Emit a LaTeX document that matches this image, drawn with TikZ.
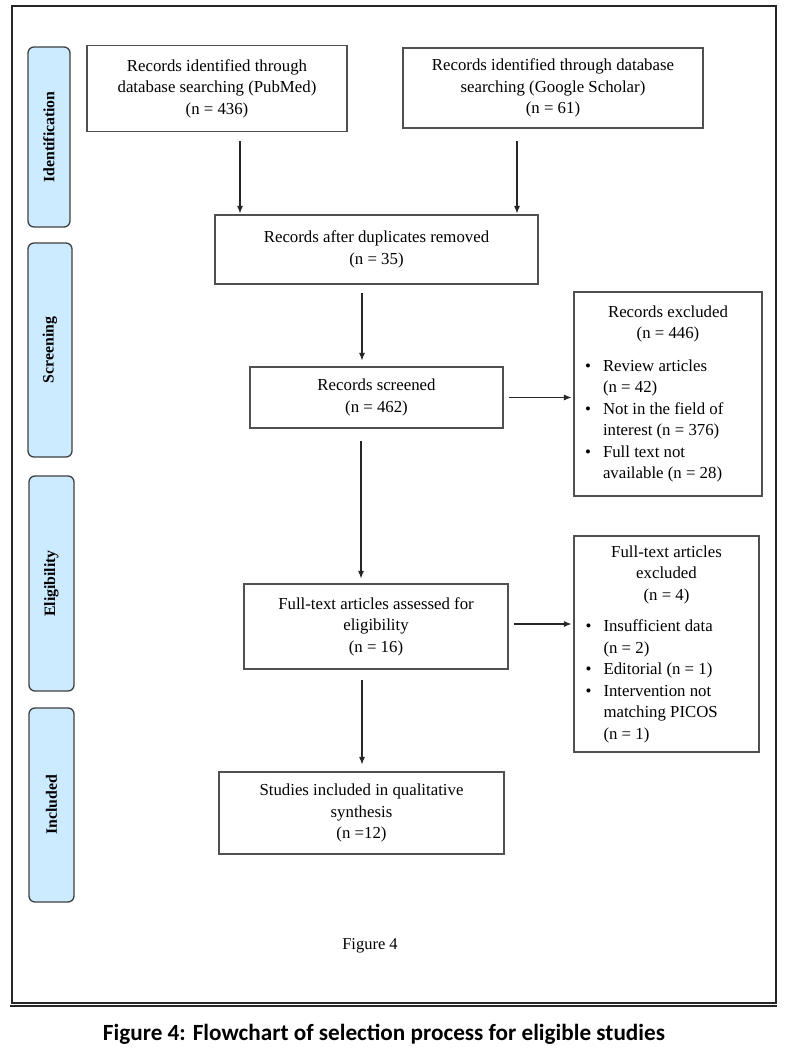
\documentclass[tikz,border=0pt]{standalone}
\usepackage{fontspec}
\setmainfont{Liberation Serif}
\newfontfamily\capfont{Carlito}
\usetikzlibrary{arrows.meta}
\definecolor{barblue}{RGB}{204,235,255}
\definecolor{edgegray}{RGB}{80,80,80}
\definecolor{bardark}{RGB}{64,64,64}
\newcommand\bul{\leavevmode\llap{\textbullet\hspace{12pt}}}
\begin{document}
\begin{tikzpicture}[x=1pt,y=-1pt,
  boxtext/.style={font=\fontsize{16.8}{21.5}\selectfont},
  flowbox/.style={draw=edgegray, line width=1.1pt, align=center, inner sep=0pt, boxtext},
  phasebar/.style={draw=bardark, line width=1.3pt, fill=barblue, rounded corners=6pt,
     rotate=90, inner sep=0pt, font=\fontsize{15.8}{18}\selectfont\bfseries},
  arr/.style={-{Latex[length=7.5pt,width=6pt]}, line width=1.1pt, black!85}]
\useasboundingbox (0,0) rectangle (784,1054);
\fill[white] (0,0) rectangle (784,1054);
% frame
\draw[line width=1.4pt, black!85] (12,6) rectangle (776,1003);
\coordinate (rl) at (10,1006.2);
\coordinate (rr) at (776.7,1006.2);
\draw[line width=2.2pt, black!85] (rl) -- (rr);
% phase bars
\node[phasebar, minimum width=180pt, minimum height=42pt] (b1) at (49,137) {Identification};
\node[phasebar, minimum width=214pt, minimum height=44pt] (b2) at (50,350) {Screening};
\node[phasebar, minimum width=215pt, minimum height=45pt] (b3) at (51.5,583.5) {Eligibility};
\node[phasebar, minimum width=194pt, minimum height=45pt] (b4) at (51.5,805) {Included};
% boxes
\node[flowbox, minimum width=260pt, minimum height=86pt] (pub) at (217,88.5)
  {Records identified through\\database searching (PubMed)\\(n = 436)};
\node[flowbox, minimum width=300pt, minimum height=80pt] (goo) at (553,88)
  {Records identified through database\\searching (Google Scholar)\\(n = 61)};
\node[flowbox, minimum width=323pt, minimum height=69pt] (dup) at (376.5,249.5)
  {Records after duplicates removed\\(n = 35)};
\node[flowbox, minimum width=253pt, minimum height=61pt] (scr) at (376.5,397.5)
  {Records screened\\(n = 462)};
\node[flowbox, minimum width=264pt, minimum height=85pt] (ft) at (376,626.5)
  {Full-text articles assessed for\\eligibility\\(n = 16)};
\node[flowbox, minimum width=285pt, minimum height=82pt] (inc) at (361.5,813)
  {Studies included in qualitative\\synthesis\\(n =12)};
\node[flowbox, minimum width=188pt, minimum height=204pt] (ex1) at (668,394)
  {\begin{minipage}{172pt}\centering Records excluded\\(n = 446)\par\vspace{11pt}%
   \raggedright\leftskip=21pt
   \bul Review articles\\(n = 42)\par
   \bul Not in the field of\\interest (n = 376)\par
   \bul Full text not\\available (n = 28)\end{minipage}};
\node[flowbox, minimum width=185pt, minimum height=216pt] (ex2) at (666.5,644)
  {\begin{minipage}{170pt}\centering Full-text articles\\excluded\\(n = 4)\par\vspace{10pt}%
   \raggedright\leftskip=22pt
   \bul Insufficient data\\(n = 2)\par
   \bul Editorial (n = 1)\par
   \bul Intervention not\\matching PICOS\\(n = 1)\end{minipage}};
% arrows
\draw[arr, shorten <=9pt, shorten >=1pt] ([xshift=23pt]pub.south) -- ([xshift=23pt]pub.south |- dup.north);
\draw[arr, shorten <=12pt, shorten >=1pt] ([xshift=-36pt]goo.south) -- ([xshift=-36pt]goo.south |- dup.north);
\draw[arr, shorten <=8pt, shorten >=6pt] ([xshift=-14.5pt]dup.south) -- ([xshift=-14.5pt]dup.south |- scr.north);
\draw[arr, shorten <=5pt, shorten >=2pt] (scr.east) -- (scr.east -| ex1.west);
\draw[arr, shorten <=12pt, shorten >=5pt] ([xshift=-15.5pt]scr.south) -- ([xshift=-15.5pt]scr.south |- ft.north);
\draw[arr, shorten <=5pt, shorten >=2pt] ([yshift=2.5pt]ft.east) -- ([yshift=2.5pt]ft.east -| ex2.west);
\draw[arr, shorten <=10pt, shorten >=7pt] ([xshift=-14pt]ft.south) -- ([xshift=-14pt]ft.south |- inc.north);
% figure labels
\node[font=\fontsize{16.5}{20}\selectfont] (fig) at (370,946) {Figure 4};
\node[anchor=base, font=\capfont\bfseries\fontsize{23.2}{28}\selectfont] (cap) at (384,1040)
  {Figure 4: Flowchart of selection process for eligible studies};
\end{tikzpicture}
\end{document}
